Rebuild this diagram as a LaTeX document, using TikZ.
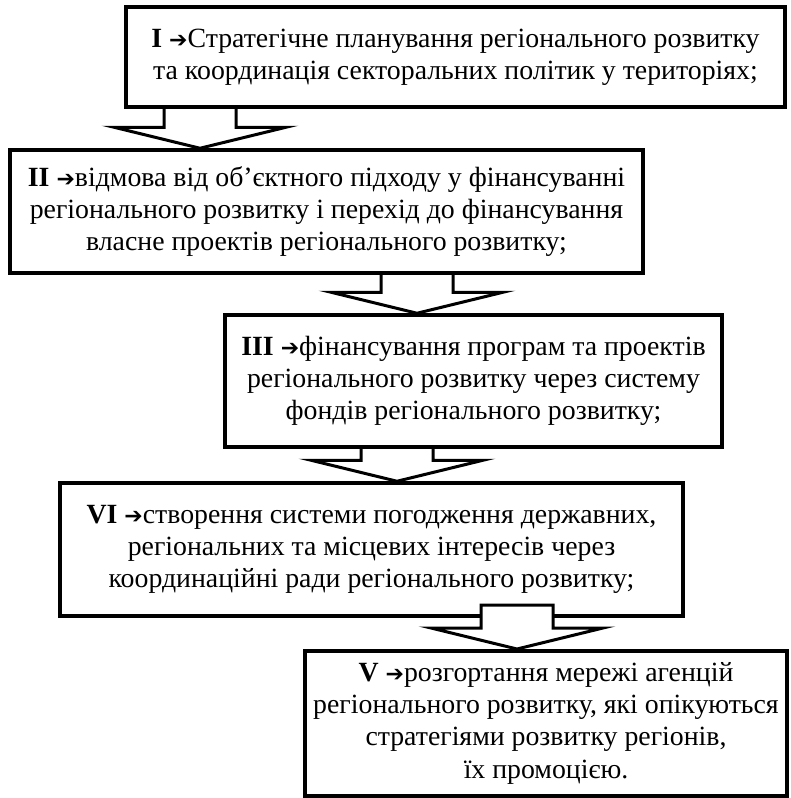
\documentclass[tikz,border=0pt]{standalone}
\usepackage{fontspec}
\setmainfont{Liberation Serif}
\newfontfamily\arrowfont{DejaVu Sans}
\usepackage{tikz}

\tikzset{
	box/.style={draw, line width=3.5pt, align=center, inner sep=0pt, font=\fontsize{27.8}{32.2}\selectfont},
	blockarr/.style={draw, fill=white, line width=3pt, line join=miter},
}
\newcommand{\nr}[1]{\textbf{#1} {\arrowfont\fontsize{22}{22}\selectfont ➔}}
\newcommand{\blockarrow}[2]{\draw[blockarr] (#1) -- ++(-86,-21) -- ++(50,0) -- ++(0,-#2) -- ++(72,0) -- ++(0,#2) -- ++(50,0) -- cycle;}

\begin{document}
\begin{tikzpicture}[x=1pt,y=-1pt]
	\useasboundingbox (0,0) rectangle (791,798);

	\node[box, minimum width=659pt, minimum height=100pt] (I) at (455.5,57)
		{\nr{I}Стратегічне планування регіонального розвитку\\
		та координація секторальних політик у територіях;};
	\node[box, minimum width=633pt, minimum height=123pt] (II) at (326.5,211.5)
		{\nr{II}відмова від об’єктного підходу у фінансуванні\\
		регіонального розвитку і перехід до фінансування\\
		власне проектів регіонального розвитку;};
	\node[box, minimum width=497pt, minimum height=132pt] (III) at (473.5,381)
		{\nr{III}фінансування програм та проектів\\
		регіонального розвитку через систему\\
		фондів регіонального розвитку;};
	\node[box, minimum width=623pt, minimum height=133pt] (VI) at (371.5,549.5)
		{\nr{VI}створення системи погодження державних,\\
		регіональних та місцевих інтересів через\\
		координаційні ради регіонального розвитку;};
	\node[box, minimum width=482pt, minimum height=145pt] (V) at (546,723.25)
		{\nr{V}розгортання мережі агенцій\\
		регіонального розвитку, які опікуються\\
		стратегіями розвитку регіонів,\\
		їх промоцією.};

	% block arrows between the boxes
	\coordinate (t1) at (200,0 |- II.north);
	\coordinate (t2) at (417,0 |- III.north);
	\coordinate (t3) at (397,0 |- VI.north);
	\coordinate (t4) at (517,0 |- V.north);
	\blockarrow{t1}{20}
	\blockarrow{t2}{19}
	\blockarrow{t3}{13}
	\blockarrow{t4}{23}
\end{tikzpicture}
\end{document}
